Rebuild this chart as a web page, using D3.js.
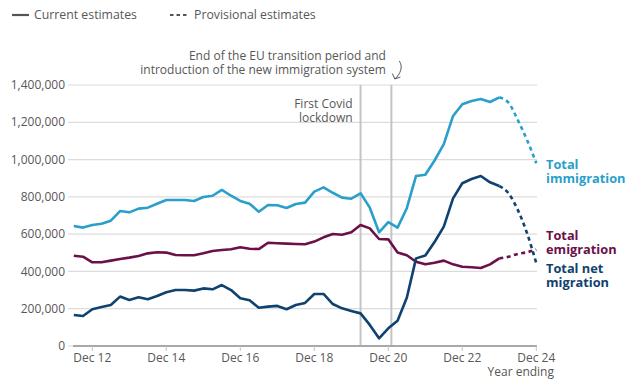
<!DOCTYPE html>
<html><head><meta charset="utf-8">
<script src="https://cdn.jsdelivr.net/npm/d3@7/dist/d3.min.js"></script>
<style>body{margin:0;background:#fff}svg{display:block;font-family:"Open Sans",sans-serif}</style>
</head><body><svg id="c" width="634" height="391"></svg>
<script>
const periods = ["Jun 12","Sep 12","Dec 12",
 "Mar 13","Jun 13","Sep 13","Dec 13","Mar 14","Jun 14","Sep 14","Dec 14",
 "Mar 15","Jun 15","Sep 15","Dec 15","Mar 16","Jun 16","Sep 16","Dec 16",
 "Mar 17","Jun 17","Sep 17","Dec 17","Mar 18","Jun 18","Sep 18","Dec 18",
 "Mar 19","Jun 19","Sep 19","Dec 19","Mar 20","Jun 20","Sep 20","Dec 20",
 "Mar 21","Jun 21","Sep 21","Dec 21","Mar 22","Jun 22","Sep 22","Dec 22",
 "Mar 23","Jun 23","Sep 23","Dec 23","Mar 24","Jun 24","Sep 24","Dec 24"];
// thousands
const immigration = [644,635,649, 656,672,724,717, 737,742,763,783, 783,783,778,799,
 806,837,806,778, 763,720,756,755, 740,762,769,828, 851,822,796,790,
 819,742,610,665, 635,739,912,919, 995,1083,1234,1297, 1314,1325,1309,1334,
 1305,1212,1105,980];
const emigration = [484,479,449, 449,458,467,474, 483,497,503,501, 488,487,487,497,
 510,515,519,530, 522,520,554,551, 549,547,546,560, 583,601,597,610,
 649,631,574,572, 501,487,452,438, 447,458,438,425, 422,418,438,470,
 479,494,503,517];
const netMigration = [166,161,197, 209,220,265,247, 261,251,268,288, 300,300,297,309,
 304,327,300,256, 245,205,211,215, 197,220,231,279, 279,225,202,188,
 175,113,41,95, 136,259,470,485, 558,640,792,873, 896,912,878,858,
 819,730,605,444];
const provisionalFrom = "Dec 23";
const yTicks = [0,200000,400000,600000,800000,1000000,1200000,1400000];
const xTickLabels = ["Dec 12","Dec 14","Dec 16","Dec 18","Dec 20","Dec 22","Dec 24"];
const seriesNames = ["Total immigration","Total emigration","Total net migration"];
const labelLines = [["Total","immigration"],["Total","emigration"],["Total net","migration"]];
const colors = ["#2a9fc9","#6b1048","#0f426f"];
const events = [
  {pos:"Mar 20", offset:0, lines:["First Covid","lockdown"]},
  {pos:"Dec 20", offset:0.33, lines:["End of the EU transition period and","introduction of the new immigration system"]}
];

const svg = d3.select("#c");
const x = d3.scaleLinear().domain([0, periods.length-1]).range([73.8, 536.3]);
const y = d3.scaleLinear().domain([0, 1400000]).range([346, 85]);
const txt = "#575757";

function multiText(g, lines, xPos, yPos, step, anchor) {
  const t = g.append("text").attr("text-anchor", anchor);
  t.selectAll("tspan").data(lines).join("tspan")
    .attr("x", xPos).attr("y", (d,i)=>yPos + i*step).attr("dy","0.35em").text(d=>d);
  return t;
}

// grid
svg.append("g").selectAll("line").data(yTicks).join("line")
  .attr("x1",68).attr("x2",537).attr("y1",d=>y(d)).attr("y2",d=>y(d))
  .attr("stroke","#dcdcdc").attr("stroke-width",1.2);
svg.append("g").selectAll("text").data(yTicks).join("text")
  .attr("x",65).attr("y",d=>y(d)).attr("dy","0.35em").attr("text-anchor","end")
  .attr("font-size",12).attr("fill",txt).text(d=>d3.format(",")(d));

// event lines
events.forEach((e,i)=>{
  const ex = x(periods.indexOf(e.pos)+e.offset);
  svg.append("line").attr("x1",ex).attr("x2",ex).attr("y1",y(1400000)).attr("y2",y(0))
    .attr("stroke","#c4c4c4").attr("stroke-width",2);
});
{
  const e = events[0]; const ex = x(periods.indexOf(e.pos));
  multiText(svg, e.lines, ex-8, 103.7, 14, "end").attr("font-size",12).attr("fill",txt);
}
{
  const e = events[1]; const ex = x(periods.indexOf(e.pos)+e.offset);
  multiText(svg, e.lines, ex-5.5, 55.7, 13.8, "end").attr("font-size",12).attr("fill",txt);
  svg.append("path").attr("d",`M${ex+8},61 C${ex+12},67 ${ex+9},74 ${ex+3.5},79`)
    .attr("fill","none").attr("stroke",txt).attr("stroke-width",1);
  svg.append("path").attr("d",`M${ex+1},73.5 L${ex+3.5},79 L${ex+9},77`)
    .attr("fill","none").attr("stroke",txt).attr("stroke-width",1);
}

// x axis
svg.append("line").attr("x1",73).attr("x2",537).attr("y1",346).attr("y2",346)
  .attr("stroke","#a8a8a8").attr("stroke-width",2);
const xt = svg.append("g").selectAll("g").data(xTickLabels).join("g")
  .attr("transform",d=>`translate(${x(periods.indexOf(d))},0)`);
xt.append("line").attr("y1",346).attr("y2",351).attr("stroke","#c4c4c4").attr("stroke-width",1);
xt.append("text").attr("y",358).attr("dy","0.35em").attr("text-anchor","middle")
  .attr("font-size",12).attr("fill",txt).text(d=>d);
svg.append("text").attr("x",554).attr("y",372).attr("dy","0.35em").attr("text-anchor","end")
  .attr("font-size",12).attr("fill",txt).text("Year ending");

// lines
const split = periods.indexOf(provisionalFrom);
[immigration, emigration, netMigration].forEach((s,i)=>{
  const pts = s.map((v,j)=>[j,v]);
  const solid = d3.line().x(d=>x(d[0])).y(d=>y(d[1]*1000));
  const dashed = d3.line().x(d=>x(d[0])).y(d=>y(d[1]*1000)).curve(d3.curveMonotoneX);
  svg.append("path").attr("d",solid(pts.slice(0,split+1))).attr("fill","none")
    .attr("stroke",colors[i]).attr("stroke-width",2.6).attr("stroke-linejoin","round");
  svg.append("path").attr("d",dashed(pts.slice(split))).attr("fill","none")
    .attr("stroke",colors[i]).attr("stroke-width",2.6).attr("stroke-dasharray","4,3.5");
});

// right labels
const labelY = [164.3, 235.7, 268.3];
labelLines.forEach((ls,i)=>{
  multiText(svg, ls, 546, labelY[i], 14, "start")
    .attr("font-size",12.8).attr("font-weight",700).attr("fill",colors[i]);
});

// legend
const lg = svg.append("g");
lg.append("line").attr("x1",12).attr("x2",29).attr("y1",15).attr("y2",15).attr("stroke","#555").attr("stroke-width",2.2);
lg.append("text").attr("x",34).attr("y",15).attr("dy","0.35em").attr("font-size",12.3).attr("fill",txt).text("Current estimates");
lg.append("line").attr("x1",170).attr("x2",189).attr("y1",15).attr("y2",15).attr("stroke","#555").attr("stroke-width",2.2).attr("stroke-dasharray","3.5,3");
lg.append("text").attr("x",194).attr("y",15).attr("dy","0.35em").attr("font-size",12.3).attr("fill",txt).text("Provisional estimates");
</script></body></html>
